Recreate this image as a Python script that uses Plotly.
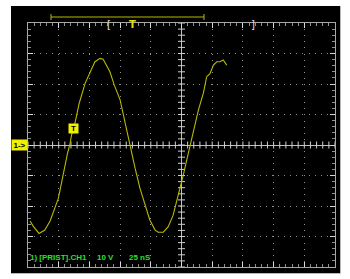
import numpy as np
import plotly.graph_objects as go

# Waveform samples (time in nS, voltage in V)
time_ns = [-123.3, -120.8, -116.0, -111.3, -107.0, -103.0, -100.3, -97.5, -95.5, -92.8,
           -91.0, -89.5, -86.8, -83.3, -78.5, -74.5, -70.5, -66.3, -63.8, -58.3,
           -54.8, -50.0, -46.0, -42.0, -37.8, -33.8, -29.8, -25.8, -21.5, -19.0,
           -14.8, -10.8, -6.8, -2.5, 1.5, 4.3, 7.0, 9.5, 13.8, 17.8,
           20.5, 23.3, 26.0, 28.8, 31.3, 34.0, 36.8]
volts = [-24.9, -26.6, -29.0, -27.9, -24.9, -20.8, -17.5, -12.0, -7.6, -2.7,
         0.0, 3.3, 7.1, 13.7, 20.2, 24.0, 27.3, 28.4, 28.1, 24.0,
         19.7, 14.8, 7.1, 0.0, -7.6, -14.2, -19.7, -24.6, -27.9, -28.6,
         -28.6, -26.8, -23.0, -16.4, -9.8, -4.9, 0.0, 4.4, 11.5, 17.0,
         22.4, 23.5, 26.2, 27.3, 27.3, 27.9, 26.2]

# Scope settings / labels
ns_per_div = 25
v_per_div = 10
x_divs = 10
y_divs = 8
trigger_time = -88
trigger_level = 5.4
status_label = "1) [PRIST].CH1"
volts_label = "10 V"
time_label = "25 nS"

x_half = ns_per_div * x_divs / 2
y_half = v_per_div * y_divs / 2

W, H = 350, 279
L, R, T, B = 28, 15, 23, 12
pw, ph = W - L - R, H - T - B

def px_x(p):
    return (p - L) / pw

def px_y(p):
    return (H - B - p) / ph

fig = go.Figure()

# center-line tick marks
cx = np.arange(-x_half, x_half + 0.01, ns_per_div / 5)
cy = np.arange(-y_half, y_half + 0.01, v_per_div / 5)
fig.add_trace(go.Scatter(x=cx, y=np.zeros_like(cx), mode="markers", hoverinfo="skip",
                         marker=dict(symbol="line-ns", size=5, color="#d0d0d0",
                                     line=dict(color="#d0d0d0", width=1))))
fig.add_trace(go.Scatter(x=np.zeros_like(cy), y=cy, mode="markers", hoverinfo="skip",
                         marker=dict(symbol="line-ew", size=5, color="#d0d0d0",
                                     line=dict(color="#d0d0d0", width=1))))

fig.add_trace(go.Scatter(x=time_ns, y=volts, mode="lines", hoverinfo="skip",
                         line=dict(color="#b8b800", width=1.1)))

axis_common = dict(showticklabels=False, showline=True, linecolor="#a8a8a8", linewidth=1,
                   mirror="ticks", ticks="inside", ticklen=5, tickcolor="#d8d8d8",
                   showgrid=True, gridcolor="#909090", gridwidth=1, griddash="1px,5.1px",
                   zeroline=True, zerolinecolor="#c0c0c0", zerolinewidth=1, fixedrange=True)

fig.update_xaxes(range=[-x_half, x_half], dtick=ns_per_div,
                 minor=dict(dtick=ns_per_div / 5, ticklen=3, tickcolor="#909090", ticks="inside"),
                 **axis_common)
fig.update_yaxes(range=[-y_half, y_half], dtick=v_per_div,
                 minor=dict(dtick=v_per_div / 5, ticklen=3, tickcolor="#909090", ticks="inside"),
                 **axis_common)

shapes = [
    dict(type="rect", xref="paper", yref="paper", x0=px_x(11), x1=px_x(340),
         y0=px_y(273), y1=px_y(6), fillcolor="black", line=dict(width=0), layer="below"),
    dict(type="line", xref="paper", yref="paper", x0=px_x(340.5), x1=px_x(340.5),
         y0=px_y(273.5), y1=px_y(6), line=dict(color="#b8b8b8", width=1)),
    dict(type="line", xref="paper", yref="paper", x0=px_x(11), x1=px_x(340.5),
         y0=px_y(273.5), y1=px_y(273.5), line=dict(color="#b8b8b8", width=1)),
    # top trigger/position bar
    dict(type="line", xref="paper", yref="paper", x0=px_x(51), x1=px_x(204),
         y0=px_y(17), y1=px_y(17), line=dict(color="#b8b800", width=1)),
    dict(type="line", xref="paper", yref="paper", x0=px_x(51), x1=px_x(51),
         y0=px_y(14), y1=px_y(20), line=dict(color="#b8b800", width=1)),
    dict(type="line", xref="paper", yref="paper", x0=px_x(204), x1=px_x(204),
         y0=px_y(14), y1=px_y(20), line=dict(color="#b8b800", width=1)),
]

font_main = "Liberation Sans, Arial, sans-serif"
ann = [
    dict(x=trigger_time, y=trigger_level, xref="x", yref="y", text="<b>T</b>", showarrow=False,
         bgcolor="#f0f000", width=9, height=9, borderpad=0,
         font=dict(family=font_main, size=8, color="black")),
    dict(x=px_x(11), y=0, xref="paper", yref="y", text="<b>1-></b>", showarrow=False,
         xanchor="left", bgcolor="#f0f000", width=15, height=10, borderpad=0,
         font=dict(family=font_main, size=8, color="black")),
    dict(x=px_x(105), y=px_y(17), xref="paper", yref="paper", text="[", showarrow=False,
         font=dict(family="DejaVu Sans", size=10, color="#e0e0e0")),
    dict(x=px_x(127), y=px_y(17), xref="paper", yref="paper", text="<b>T</b>", showarrow=False,
         font=dict(family="DejaVu Sans", size=10, color="#e0e000")),
    dict(x=px_x(257), y=px_y(17), xref="paper", yref="paper", text="]", showarrow=False,
         font=dict(family="DejaVu Sans", size=10, color="#e0e0e0")),
    dict(x=px_x(28), y=px_y(264), xref="paper", yref="paper", text="<b>" + status_label + "</b>",
         showarrow=False, xanchor="left",
         font=dict(family=font_main, size=8, color="#28e028")),
    dict(x=px_x(95), y=px_y(264), xref="paper", yref="paper", text="<b>" + volts_label + "</b>",
         showarrow=False, xanchor="left",
         font=dict(family=font_main, size=8, color="#28e028")),
    dict(x=px_x(127), y=px_y(264), xref="paper", yref="paper", text="<b>" + time_label + "</b>",
         showarrow=False, xanchor="left",
         font=dict(family=font_main, size=8, color="#28e028")),
]

fig.update_layout(width=W, height=H, margin=dict(l=L, r=R, t=T, b=B),
                  paper_bgcolor="white", plot_bgcolor="black", showlegend=False,
                  shapes=shapes, annotations=ann)

fig.write_html("out.html", config={"displayModeBar": False})
